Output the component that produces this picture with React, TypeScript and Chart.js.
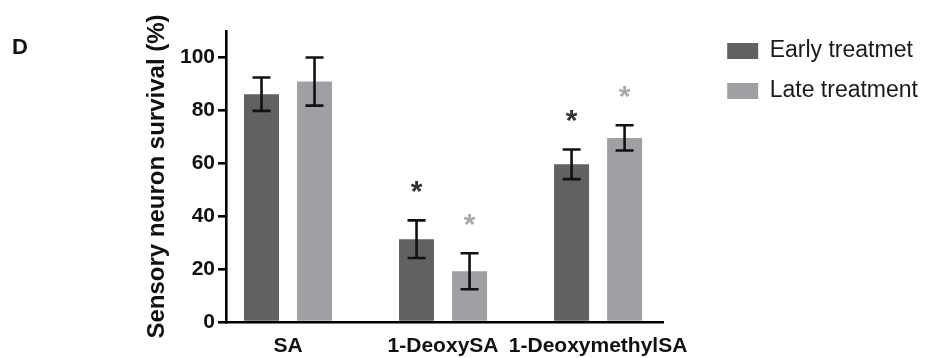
import React, { useEffect, useRef } from "react";
import { Chart, registerables } from "chart.js";

Chart.register(...registerables);

// ---- data ----
const categories = ["SA", "1-DeoxySA", "1-DeoxymethylSA"];
const seriesNames = ["Early treatmet", "Late treatment"];
const earlyValues = [86.1, 31.3, 59.6];
const earlyErrors = [6.3, 7.1, 5.6];
const lateValues = [90.9, 19.2, 69.6];
const lateErrors = [9.1, 6.8, 4.8];
const earlySignificant = [false, true, true];
const lateSignificant = [false, true, true];
const yTickValues = [0, 20, 40, 60, 80, 100];
const yAxisMax = 110;
const yAxisTitle = "Sensory neuron survival (%)";
const panelLetter = "D";

const FONT = "'Liberation Sans', Arial, Helvetica, sans-serif";
const DARK = "#616161";
const LIGHT = "#a0a0a4";

const errorBarPlugin = {
  id: "errorBarsAndStars",
  afterDatasetsDraw(chart: any) {
    const ctx = chart.ctx;
    const yScale = chart.scales.y;
    chart.data.datasets.forEach((ds: any, di: number) => {
      const meta = chart.getDatasetMeta(di);
      meta.data.forEach((bar: any, i: number) => {
        const v = ds.data[i].y;
        const e = ds.errors[i];
        const x = bar.x;
        const yTop = yScale.getPixelForValue(v + e);
        const yBot = yScale.getPixelForValue(v - e);
        ctx.save();
        ctx.strokeStyle = "#111111";
        ctx.lineWidth = 2.6;
        ctx.lineCap = "butt";
        ctx.beginPath();
        ctx.moveTo(x, yTop);
        ctx.lineTo(x, yBot);
        ctx.moveTo(x - 9, yTop);
        ctx.lineTo(x + 9, yTop);
        ctx.moveTo(x - 9, yBot);
        ctx.lineTo(x + 9, yBot);
        ctx.stroke();
        if (ds.sig[i]) {
          ctx.fillStyle = ds.starColor;
          ctx.font = `bold 30px ${FONT}`;
          ctx.textAlign = "center";
          ctx.textBaseline = "alphabetic";
          ctx.fillText("*", x, yTop - 37 + 17.5);
        }
        ctx.restore();
      });
    });
  },
};

export default function App() {
  const canvasRef = useRef<HTMLCanvasElement | null>(null);

  useEffect(() => {
    document.body.style.margin = "0";
    const canvas = canvasRef.current;
    if (!canvas) return;
    const chart = new Chart(canvas, {
      type: "bar",
      data: {
        datasets: [
          {
            label: seriesNames[0],
            data: categories.map((_, i) => ({ x: i + 1, y: earlyValues[i] })),
            backgroundColor: DARK,
            borderWidth: 0,
            categoryPercentage: 0.684,
            barPercentage: 0.66,
            errors: earlyErrors,
            sig: earlySignificant,
            starColor: "#333333",
          } as any,
          {
            label: seriesNames[1],
            data: categories.map((_, i) => ({ x: i + 1, y: lateValues[i] })),
            backgroundColor: LIGHT,
            borderWidth: 0,
            categoryPercentage: 0.684,
            barPercentage: 0.66,
            errors: lateErrors,
            sig: lateSignificant,
            starColor: "#aaaaaa",
          } as any,
        ],
      },
      options: {
        animation: false,
        responsive: true,
        maintainAspectRatio: false,
        layout: { padding: { top: 22.5, right: 1, left: 0, bottom: 0 } },
        plugins: {
          legend: {
            position: "right",
            align: "start",
            labels: {
              boxWidth: 31,
              boxHeight: 16,
              padding: 17,
              color: "#1a1a1a",
              font: { family: FONT, size: 23 },
            },
          },
          tooltip: { enabled: false },
        },
        scales: {
          x: {
            type: "linear",
            position: "bottom",
            offset: false,
            min: 0.6,
            max: 3.42,
            grid: { display: false, offset: false, drawTicks: false, drawOnChartArea: false },
            border: { display: true, color: "#000000", width: 2.6 },
            ticks: {
              autoSkip: false,
              maxRotation: 0,
              minRotation: 0,
              padding: 12,
              color: "#111111",
              font: { family: FONT, size: 21, weight: "bold" },
              callback: (_v: any, i: number) => categories[i],
            },
            afterBuildTicks: (s: any) => {
              s.ticks = categories.map((_, i) => ({ value: i + 1 }));
            },
            afterFit: (s: any) => {
              s.height = 36;
            },
          },
          y: {
            type: "linear",
            position: "left",
            min: 0,
            max: yAxisMax,
            grid: {
              display: true,
              drawOnChartArea: false,
              drawTicks: true,
              tickLength: 8,
              color: "#000000",
              lineWidth: 2.6,
            },
            border: { display: true, color: "#000000", width: 2.6 },
            ticks: {
              padding: 3,
              color: "#111111",
              font: { family: FONT, size: 21, weight: "bold" },
            },
            afterBuildTicks: (s: any) => {
              s.ticks = yTickValues.map((v) => ({ value: v }));
            },
            title: {
              display: true,
              text: yAxisTitle,
              color: "#111111",
              font: { family: FONT, size: 24, weight: "bold" },
              padding: { top: 143, bottom: 0 },
            },
            afterFit: (s: any) => {
              s.width = 226;
              s.paddingTop = 31;
            },
          },
          spacer: {
            type: "linear",
            position: "right",
            display: false,
            afterFit: (s: any) => {
              s.width = 47;
              s.paddingTop = 0;
              s.paddingBottom = 0;
            },
          },
        } as any,
      },
      plugins: [errorBarPlugin],
    });
    return () => chart.destroy();
  }, []);

  return (
    <div style={{ position: "relative", width: 929, height: 358 }}>
      <canvas ref={canvasRef} />
      <div
        style={{
          position: "absolute",
          left: 12,
          top: 35.5,
          fontFamily: FONT,
          fontWeight: "bold",
          fontSize: 22,
          lineHeight: "22px",
          color: "#111111",
        }}
      >
        {panelLetter}
      </div>
    </div>
  );
}
